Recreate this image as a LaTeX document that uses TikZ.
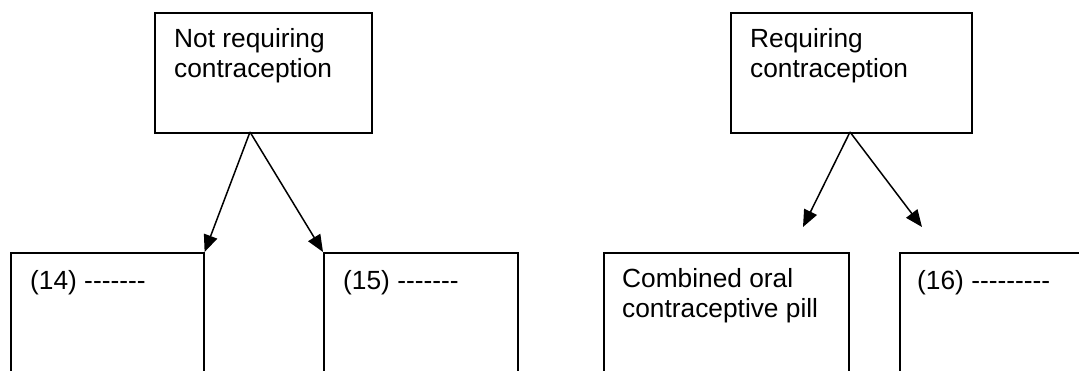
\documentclass[tikz,border=0pt]{standalone}
\usepackage{fontspec}
\setmainfont{Liberation Sans}
\usetikzlibrary{arrows.meta}

\tikzset{
  box/.style={draw=black, line width=1.6pt, fill=none, inner sep=0pt,
    anchor=north west, rectangle},
  boxtext/.style={anchor=north west, inner sep=0pt, align=left,
    font=\fontsize{26.3pt}{30.2pt}\selectfont},
  link/.style={line width=1.5pt, -{Triangle[length=17pt,width=14pt]}}
}
% top strut so every label's first baseline sits 21pt below its node top
\newcommand{\firstline}{\rule{0pt}{21pt}}
% a plain hyphen that never joins its neighbours into a dash
\newcommand{\hy}{-\kern0pt}

\begin{document}
\begin{tikzpicture}[x=1pt, y=-1pt]
  \useasboundingbox (0,0) rectangle (1079,370);
  \clip (0,0) rectangle (1079,370);

  % upper category boxes
  \node[box, minimum width=217pt, minimum height=120pt] (nr) at (154,12) {};
  \node[box, minimum width=241pt, minimum height=120pt] (rq) at (730,12) {};

  % lower option boxes (they run past the lower edge)
  \node[box, minimum width=193pt, minimum height=200pt] (o14)  at (10,252) {};
  \node[box, minimum width=194pt, minimum height=200pt] (o15)  at (323,252) {};
  \node[box, minimum width=245pt, minimum height=200pt] (cocp) at (603,252) {};
  \node[box, minimum width=260pt, minimum height=200pt] (o16)  at (899,252) {};

  % labels
  \node[boxtext] (nrt) at ([shift={(20,14.5)}]nr.north west)
    {\firstline Not requiring\\contraception};
  \node[boxtext] (rqt) at ([shift={(20,14.5)}]rq.north west)
    {\firstline Requiring\\contraception};
  \node[boxtext] (o14t) at ([shift={(20,16)}]o14.north west)
    {\firstline (14) \hy\hy\hy\hy\hy\hy\hy};
  \node[boxtext] (o15t) at ([shift={(20,16)}]o15.north west)
    {\firstline (15) \hy\hy\hy\hy\hy\hy\hy};
  \node[boxtext] (cocpt) at ([shift={(19,14.5)}]cocp.north west)
    {\firstline Combined oral\\contraceptive pill};
  \node[boxtext] (o16t) at ([shift={(18,16)}]o16.north west)
    {\firstline (16) \hy\hy\hy\hy\hy\hy\hy\hy\hy};

  % connector start and free ends
  \coordinate (nrfoot) at (250,132);
  \coordinate (rqfoot) at (850,132);
  \coordinate (cocpin) at (803,227);
  \coordinate (o16in)  at (922,227);

  \draw[link] (nrfoot) -- (o14.north east);
  \draw[link] (nrfoot) -- (o15.north west);
  \draw[link] (rqfoot) -- (cocpin);
  \draw[link] (rqfoot) -- (o16in);
\end{tikzpicture}
\end{document}
